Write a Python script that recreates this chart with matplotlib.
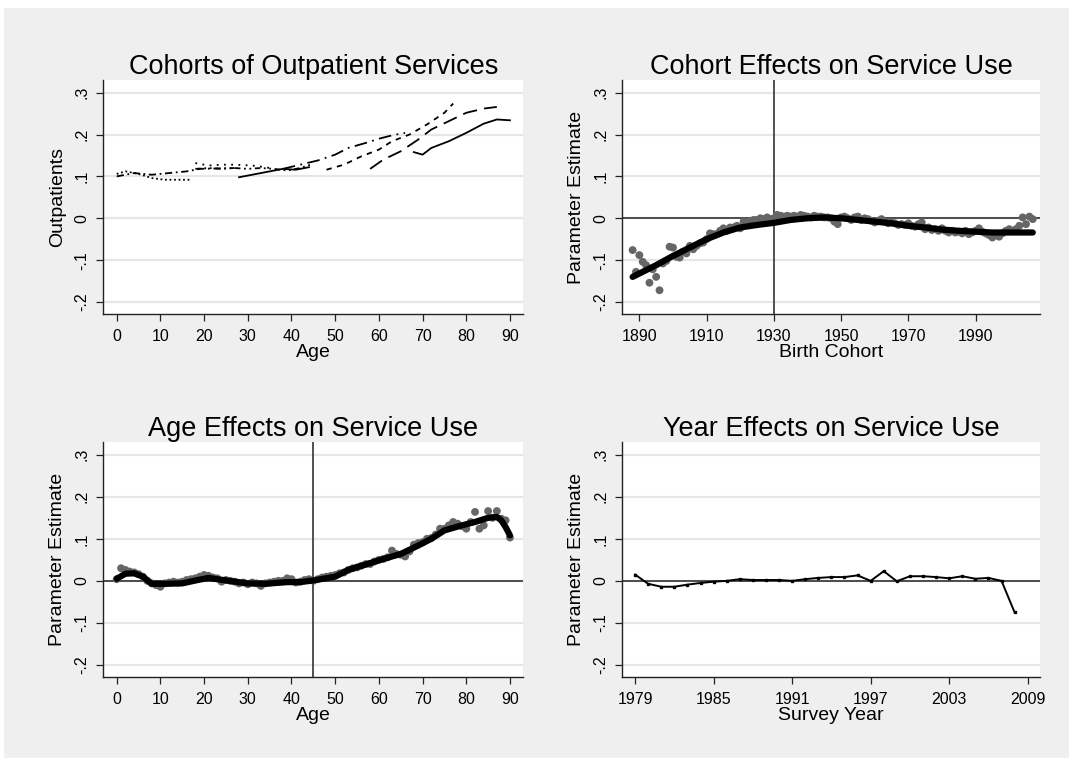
import matplotlib

matplotlib.use("Agg")
import matplotlib.pyplot as plt
from matplotlib.patches import Rectangle

plt.rcParams["font.family"] = ["Liberation Sans", "DejaVu Sans"]

# ---- panel 1: cohort profiles (age, outpatient share) ----
c1_age = [0, 2, 5, 8, 11, 14, 17]
c1_val = [0.106, 0.112, 0.106, 0.096, 0.092, 0.092, 0.092]
c2_age = [0, 4, 8, 12, 16, 19, 23, 27]
c2_val = [0.100, 0.108, 0.104, 0.108, 0.112, 0.118, 0.119, 0.120]
c3_age = [18, 21, 24, 27, 31, 34, 36]
c3_val = [0.132, 0.126, 0.128, 0.128, 0.126, 0.122, 0.118]
c4_age = [18, 21, 24, 27, 30, 33, 36, 39, 42, 45]
c4_val = [0.118, 0.120, 0.118, 0.120, 0.118, 0.120, 0.118, 0.114, 0.120, 0.130]
c5_age = [28, 32, 36, 38, 41, 44]
c5_val = [0.098, 0.106, 0.114, 0.118, 0.116, 0.122]
c6_age = [38, 42, 46, 50, 53, 57, 60, 63, 66]
c6_val = [0.118, 0.128, 0.138, 0.152, 0.168, 0.180, 0.190, 0.198, 0.204]
c7_age = [48, 52, 56, 60, 63, 67, 71, 75, 77]
c7_val = [0.116, 0.128, 0.148, 0.164, 0.184, 0.200, 0.224, 0.252, 0.274]
c8_age = [58, 61, 65, 69, 72, 76, 80, 84, 87]
c8_val = [0.118, 0.140, 0.160, 0.188, 0.212, 0.232, 0.252, 0.262, 0.266]
c9_age = [68, 70, 72, 76, 80, 84, 87, 90]
c9_val = [0.158, 0.152, 0.168, 0.184, 0.204, 0.226, 0.236, 0.234]

# ---- panel 2: birth cohort effects ----
cohort_years = list(range(1888, 2008))
cohort_est = [
    -0.076, -0.128, -0.088, -0.104, -0.112, -0.154, -0.122, -0.140, -0.172, -0.108,
    -0.102, -0.068, -0.070, -0.092, -0.094, -0.080, -0.084, -0.066, -0.074, -0.066,
    -0.060, -0.058, -0.050, -0.036, -0.038, -0.038, -0.030, -0.024, -0.030, -0.022,
    -0.022, -0.018, -0.024, -0.008, -0.012, -0.006, -0.004, -0.004, 0.000, -0.002,
    0.002, -0.002, 0.000, 0.008, 0.006, 0.004, 0.006, 0.004, 0.006, 0.004,
    0.008, 0.006, 0.004, 0.002, 0.006, 0.004, 0.004, 0.002, 0.002, 0.000,
    -0.008, -0.014, 0.002, 0.004, 0.000, -0.004, 0.002, 0.004, -0.004, 0.000,
    -0.002, -0.006, -0.010, -0.006, -0.002, -0.008, -0.012, -0.010, -0.012, -0.016,
    -0.014, -0.016, -0.012, -0.018, -0.020, -0.014, -0.010, -0.026, -0.022, -0.028,
    -0.026, -0.030, -0.024, -0.030, -0.034, -0.030, -0.034, -0.032, -0.036, -0.030,
    -0.038, -0.034, -0.030, -0.024, -0.032, -0.036, -0.040, -0.046, -0.040, -0.044,
    -0.036, -0.030, -0.026, -0.030, -0.026, -0.018, 0.002, -0.014, 0.004, -0.002,
]
cohort_fit_x = [1888, 1890, 1895, 1900, 1905, 1910, 1915, 1920, 1925, 1930, 1935,
                1940, 1945, 1950, 1955, 1960, 1965, 1970, 1975, 1980, 1985, 1990,
                1995, 2000, 2007]
cohort_fit_y = [-0.140, -0.132, -0.112, -0.090, -0.070, -0.050, -0.034, -0.022,
                -0.016, -0.011, -0.004, 0.000, 0.002, 0.000, -0.004, -0.008,
                -0.012, -0.018, -0.022, -0.027, -0.030, -0.032, -0.034, -0.034,
                -0.034]

# ---- panel 3: age effects ----
ages = list(range(0, 91))
age_est = [
    0.004, 0.030, 0.026, 0.022, 0.020, 0.016, 0.010, 0.000, -0.006, -0.010,
    -0.014, -0.006, -0.004, -0.002, -0.004, -0.002, 0.002, 0.004, 0.006, 0.010,
    0.014, 0.012, 0.008, 0.006, -0.002, 0.002, 0.000, -0.002, -0.006, -0.004,
    -0.008, -0.004, -0.006, -0.012, -0.006, -0.004, -0.002, 0.000, 0.000, 0.006,
    0.004, -0.004, -0.002, 0.002, 0.004, 0.000, 0.004, 0.008, 0.010, 0.012,
    0.014, 0.018, 0.020, 0.026, 0.030, 0.032, 0.036, 0.040, 0.040, 0.046,
    0.050, 0.052, 0.056, 0.072, 0.064, 0.062, 0.058, 0.070, 0.086, 0.090,
    0.092, 0.100, 0.102, 0.110, 0.124, 0.124, 0.132, 0.140, 0.136, 0.130,
    0.124, 0.140, 0.164, 0.124, 0.132, 0.166, 0.150, 0.166, 0.148, 0.144,
    0.103,
]
age_fit_x = [0, 2, 4, 6, 8, 11, 15, 19, 21, 25, 30, 34, 39, 42, 45, 50, 53, 57,
             61, 65, 69, 72, 75, 79, 82, 85, 87, 88, 89, 90]
age_fit_y = [0.005, 0.017, 0.018, 0.010, -0.007, -0.007, -0.006, 0.003, 0.007,
             0.001, -0.006, -0.007, -0.003, -0.003, 0.001, 0.010, 0.026, 0.039,
             0.052, 0.064, 0.084, 0.100, 0.120, 0.132, 0.140, 0.150, 0.152,
             0.144, 0.128, 0.108]

# ---- panel 4: survey year effects ----
survey_years = list(range(1979, 2009))
year_est = [
    0.015, -0.007, -0.014, -0.014, -0.009, -0.005, -0.002, 0.000, 0.004, 0.002,
    0.002, 0.002, 0.000, 0.004, 0.007, 0.009, 0.009, 0.013, 0.000, 0.023,
    -0.001, 0.011, 0.011, 0.009, 0.006, 0.011, 0.005, 0.007, 0.000, -0.075,
]

y_ticks = [-0.2, -0.1, 0.0, 0.1, 0.2, 0.3]
y_tick_labels = ["-.2", "-.1", "0", ".1", ".2", ".3"]
age_ticks = list(range(0, 91, 10))
cohort_ticks = [1890, 1910, 1930, 1950, 1970, 1990]
year_ticks = [1979, 1985, 1991, 1997, 2003, 2009]

W, H = 1069, 758
BG = "#efefef"
GRID = "#e6e6e6"

fig = plt.figure(figsize=(W / 100, H / 100), dpi=100)
fig.patch.set_facecolor("white")
fig.patches.append(Rectangle((4 / W, 0), 1 - 4 / W, 1 - 8 / H, transform=fig.transFigure,
                             facecolor=BG, edgecolor="none", zorder=-10))


def make_axes(left, top, right, bottom):
    ax = fig.add_axes([left / W, 1 - bottom / H, (right - left) / W, (bottom - top) / H])
    ax.set_facecolor("white")
    for side in ("top", "right"):
        ax.spines[side].set_visible(False)
    for side in ("left", "bottom"):
        ax.spines[side].set_color("#222222")
        ax.spines[side].set_linewidth(1.0)
    ax.set_ylim(-0.2287, 0.3303)
    ax.set_yticks(y_ticks)
    ax.set_yticklabels(y_tick_labels, rotation=90, va="center")
    ax.yaxis.grid(True, color=GRID, linewidth=1.6)
    ax.set_axisbelow(True)
    ax.tick_params(axis="both", direction="out", length=5, width=0.9, color="#222222",
                   labelsize=11.5)
    ax.tick_params(axis="x", pad=6)
    ax.tick_params(axis="y", pad=5)
    return ax


def finish(ax, title, xlabel, ylabel):
    ax.set_title(title, fontsize=19.5, pad=3)
    ax.set_xlabel(xlabel, fontsize=14, labelpad=0)
    ax.set_ylabel(ylabel, fontsize=14, labelpad=6)


ax1 = make_axes(103.3, 80, 523.3, 314)
ax2 = make_axes(622, 80, 1040, 314)
ax3 = make_axes(103.3, 442, 523.3, 677)
ax4 = make_axes(622, 442, 1040, 677)

# panel 1
cohort_lines = [
    (c1_age, c1_val, (0, (1, 1.5))),
    (c2_age, c2_val, (0, (4, 2, 1, 2))),
    (c3_age, c3_val, (0, (1, 3))),
    (c4_age, c4_val, (0, (3, 2, 1, 2, 1, 2))),
    (c5_age, c5_val, "-"),
    (c6_age, c6_val, (0, (7, 3, 1, 3))),
    (c7_age, c7_val, (0, (3, 3))),
    (c8_age, c8_val, (0, (8, 4))),
    (c9_age, c9_val, "-"),
]
for xs, ys, ls in cohort_lines:
    ax1.plot(xs, ys, color="black", linewidth=1.3, linestyle=ls)
ax1.set_xlim(-3.07, 93.05)
ax1.set_xticks(age_ticks)
finish(ax1, "Cohorts of Outpatient Services", "Age", "Outpatients")

# panel 2
ax2.axhline(0, color="#333333", linewidth=1.2, zorder=1)
ax2.axvline(1930, color="#333333", linewidth=1.2, zorder=1)
ax2.scatter(cohort_years, cohort_est, s=32, color="#666666", edgecolors="none", zorder=2)
ax2.plot(cohort_fit_x, cohort_fit_y, color="black", linewidth=4.5, zorder=3,
         solid_capstyle="round")
ax2.set_xlim(1884.84, 2009.16)
ax2.set_xticks(cohort_ticks)
finish(ax2, "Cohort Effects on Service Use", "Birth Cohort", "Parameter Estimate")

# panel 3
ax3.axhline(0, color="#333333", linewidth=1.2, zorder=1)
ax3.axvline(45, color="#333333", linewidth=1.2, zorder=1)
ax3.scatter(ages, age_est, s=32, color="#666666", edgecolors="none", zorder=2)
ax3.plot(age_fit_x, age_fit_y, color="black", linewidth=4.5, zorder=3,
         solid_capstyle="round")
ax3.set_xlim(-3.07, 93.05)
ax3.set_xticks(age_ticks)
finish(ax3, "Age Effects on Service Use", "Age", "Parameter Estimate")

# panel 4
ax4.axhline(0, color="#333333", linewidth=1.2, zorder=1)
ax4.plot(survey_years, year_est, color="black", linewidth=1.4, marker="s",
         markersize=2, zorder=3)
ax4.set_xlim(1978.0, 2009.94)
ax4.set_xticks(year_ticks)
finish(ax4, "Year Effects on Service Use", "Survey Year", "Parameter Estimate")

fig.savefig("out.png", dpi=100, facecolor=fig.get_facecolor())
